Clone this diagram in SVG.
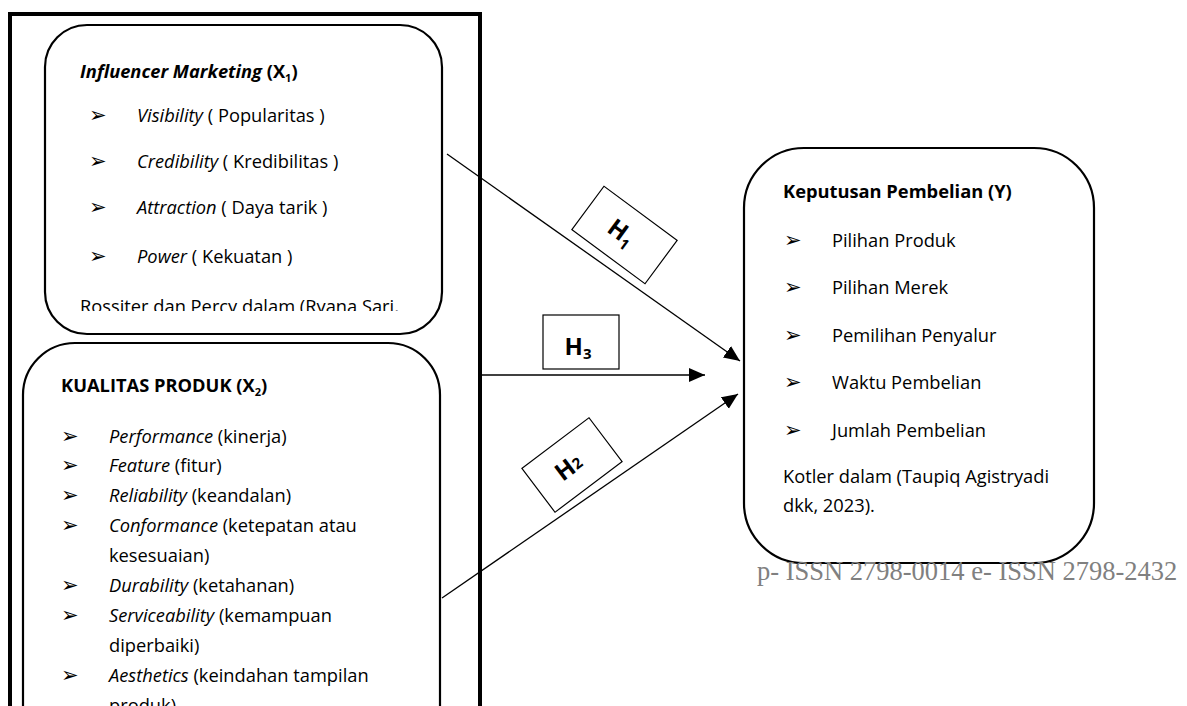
<svg xmlns="http://www.w3.org/2000/svg" width="1187" height="706" viewBox="0 0 1187 706">
<style>
.box{fill:#fff;stroke:#000;stroke-width:2.2}
.t{font-family:"Open Sans","Liberation Sans",sans-serif;font-size:18.3px;fill:#000}
.b{font-weight:bold}
.i{font-style:italic}
.bul{font-family:"DejaVu Sans",sans-serif;font-size:21px;fill:#000}
.h{font-family:"Open Sans","Liberation Sans",sans-serif;font-size:24px;font-weight:bold;fill:#000}
.hbox{fill:#fff;stroke:#000;stroke-width:1.2}
.conn{stroke:#000;stroke-width:1.3;fill:none}
</style>
<defs>
<marker id="ah" markerUnits="userSpaceOnUse" markerWidth="18" markerHeight="16" refX="16" refY="7" orient="auto">
<path d="M0,0 L16,7 L0,14 Z" fill="#000"/>
</marker>
<clipPath id="c1"><rect x="40" y="20" width="410" height="291"/></clipPath>
</defs>
<rect width="1187" height="706" fill="#fff"/>
<g id="frame">
<rect x="10" y="14" width="470" height="720" fill="none" stroke="#000" stroke-width="4"/>
</g>
<g id="x1">
<rect class="box" x="45" y="25" width="397" height="309" rx="42" ry="42"/>
<text class="t b" x="80" y="78"><tspan class="i">Influencer Marketing</tspan> (X<tspan font-size="11" dy="4">1</tspan><tspan dy="-4">)</tspan></text>
<text class="bul" x="89" y="122">➢</text>
<text class="t" x="137" y="122"><tspan class="i">Visibility</tspan> ( Popularitas )</text>
<text class="bul" x="89" y="168">➢</text>
<text class="t" x="137" y="168"><tspan class="i">Credibility</tspan> ( Kredibilitas )</text>
<text class="bul" x="89" y="214">➢</text>
<text class="t" x="137" y="214"><tspan class="i">Attraction</tspan> ( Daya tarik )</text>
<text class="bul" x="89" y="263">➢</text>
<text class="t" x="137" y="263"><tspan class="i">Power</tspan> ( Kekuatan )</text>
<text class="t" x="80" y="313" clip-path="url(#c1)">Rossiter dan Percy dalam (Ryana Sari,</text>
</g>
<g id="x2">
<path class="box" d="M23,730 L23,395 A52,52 0 0 1 75,343 L388,343 A52,52 0 0 1 440,395 L440,730"/>
<text class="t b" x="61" y="392">KUALITAS PRODUK (X<tspan font-size="11" dy="4">2</tspan><tspan dy="-4">)</tspan></text>
<text class="bul" x="61" y="443">➢</text>
<text class="t" x="109" y="443"><tspan class="i">Performance</tspan> (kinerja)</text>
<text class="bul" x="61" y="472">➢</text>
<text class="t" x="109" y="472"><tspan class="i">Feature</tspan> (fitur)</text>
<text class="bul" x="61" y="502">➢</text>
<text class="t" x="109" y="502"><tspan class="i">Reliability</tspan> (keandalan)</text>
<text class="bul" x="61" y="532">➢</text>
<text class="t" x="109" y="532"><tspan class="i">Conformance</tspan> (ketepatan atau</text>
<text class="t" x="109" y="562">kesesuaian)</text>
<text class="bul" x="61" y="592">➢</text>
<text class="t" x="109" y="592"><tspan class="i">Durability</tspan> (ketahanan)</text>
<text class="bul" x="61" y="622">➢</text>
<text class="t" x="109" y="622"><tspan class="i">Serviceability</tspan> (kemampuan</text>
<text class="t" x="109" y="652">diperbaiki)</text>
<text class="bul" x="61" y="682">➢</text>
<text class="t" x="109" y="682"><tspan class="i">Aesthetics</tspan> (keindahan tampilan</text>
<text class="t" x="109" y="712">produk)</text>
</g>
<g id="y">
<rect class="box" x="744" y="148" width="350" height="415" rx="60" ry="60"/>
<text class="t b" x="783" y="198">Keputusan Pembelian (Y)</text>
<text class="bul" x="784" y="247">➢</text>
<text class="t" x="832" y="247">Pilihan Produk</text>
<text class="bul" x="784" y="294">➢</text>
<text class="t" x="832" y="294">Pilihan Merek</text>
<text class="bul" x="784" y="342">➢</text>
<text class="t" x="832" y="342">Pemilihan Penyalur</text>
<text class="bul" x="784" y="389">➢</text>
<text class="t" x="832" y="389">Waktu Pembelian</text>
<text class="bul" x="784" y="437">➢</text>
<text class="t" x="832" y="437">Jumlah Pembelian</text>
<text class="t" x="783" y="483">Kotler dalam (Taupiq Agistryadi</text>
<text class="t" x="783" y="512">dkk, 2023).</text>
</g>
<g id="connectors">
<line class="conn" x1="447" y1="154" x2="740" y2="361" marker-end="url(#ah)"/>
<line class="conn" x1="479" y1="375" x2="705" y2="375" marker-end="url(#ah)"/>
<line class="conn" x1="442" y1="598" x2="738" y2="394" marker-end="url(#ah)"/>
</g>
<g id="h1" transform="translate(624.5,235) rotate(36.5)">
<rect class="hbox" x="-45.5" y="-27" width="91" height="54"/>
<text class="h" x="-4" y="8" text-anchor="middle">H<tspan font-size="15" dy="5">1</tspan></text>
</g>
<g id="h3">
<rect class="hbox" x="543" y="315" width="76" height="54"/>
<text class="h" x="578" y="355" text-anchor="middle">H<tspan font-size="15" dy="4">3</tspan></text>
</g>
<g id="h2" transform="translate(572,465) rotate(-37)">
<rect class="hbox" x="-42" y="-27.5" width="84" height="55"/>
<text class="h" x="-4" y="8" text-anchor="middle">H<tspan font-size="15" dy="-1">2</tspan></text>
</g>
<text x="757" y="580" font-family="'Liberation Serif',serif" font-size="26.5" fill="#808080">p- ISSN 2798-0014 e- ISSN 2798-2432</text>
</svg>
